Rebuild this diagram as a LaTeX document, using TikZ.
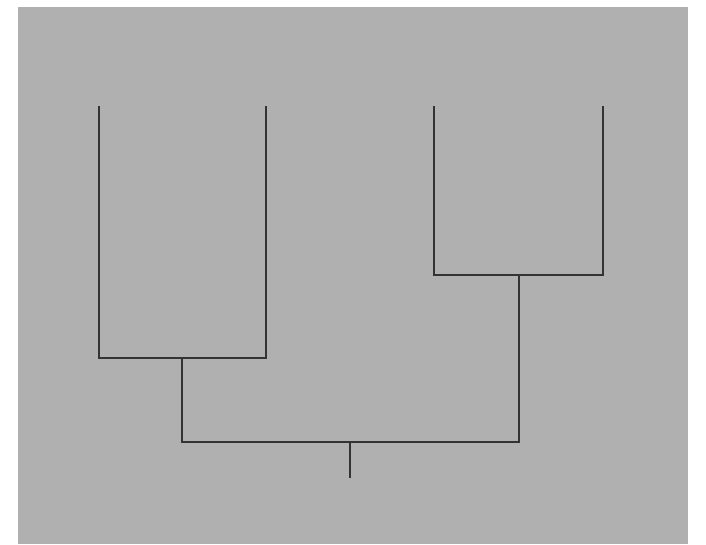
\documentclass[tikz,border=0pt]{standalone}
\usetikzlibrary{positioning}
\definecolor{panelgray}{HTML}{B0B0B0}
\definecolor{linkgray}{HTML}{333333}
\tikzset{
  panel/.style  = {fill=panelgray, draw=none},
  branch/.style = {-, draw=linkgray, line width=1.5pt},
}

\begin{document}
\begin{tikzpicture}[x=1pt, y=-1pt]
  \useasboundingbox (0,0) rectangle (706,544);
  \fill[panel] (18,7) rectangle (688,544);
  % leaves
  \coordinate (l1) at (99,106);
  \coordinate (l2) at (266,106);
  \coordinate (l3) at (434,106);
  \coordinate (l4) at (603,106);
  % merges
  \coordinate (ma) at (182,358);
  \coordinate (mb) at (519,275);
  \coordinate (mr) at (350,442);
  \coordinate (rt) at (350,478);
  \draw[branch] (l1) |- (ma) -| (l2);
  \draw[branch] (l3) |- (mb) -| (l4);
  \draw[branch] (ma) |- (mr) -| (mb);
  \draw[branch] (mr) -- (rt);
\end{tikzpicture}
\end{document}
